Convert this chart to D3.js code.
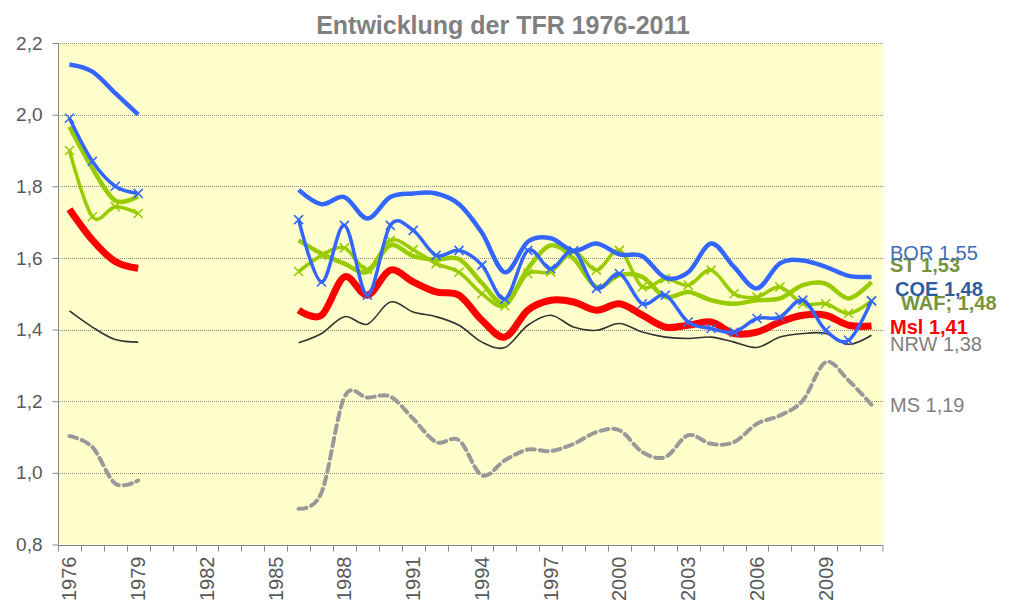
<!DOCTYPE html>
<html>
<head>
<meta charset="utf-8">
<script src="https://cdn.jsdelivr.net/npm/d3@7"></script>
<style>
  body { margin: 0; background: #fff; }
  text { font-family: "Liberation Sans", Arial, sans-serif; }
</style>
</head>
<body>
<script>
// TFR 1976-2011, no values for 1980-1985
var years = [1976, 1977, 1978, 1979, 1980, 1981, 1982, 1983, 1984, 1985,
    1986, 1987, 1988, 1989, 1990, 1991, 1992, 1993, 1994, 1995, 1996, 1997,
    1998, 1999, 2000, 2001, 2002, 2003, 2004, 2005, 2006, 2007, 2008, 2009, 2010, 2011];
var xLabels = [1976, 1979, 1982, 1985, 1988, 1991, 1994, 1997, 2000, 2003, 2006, 2009];
var yTicks = [0.8, 1.0, 1.2, 1.4, 1.6, 1.8, 2.0, 2.2];

var BOR = [2.14, 2.12, 2.06, 2.00, null, null, null, null, null, null,
    1.79, 1.75, 1.77, 1.71, 1.77, 1.78, 1.78, 1.75, 1.67, 1.56, 1.645, 1.655,
    1.62, 1.64, 1.61, 1.605, 1.545, 1.56, 1.64, 1.575, 1.515, 1.585, 1.593, 1.575, 1.55, 1.547];
var COE = [1.99, 1.87, 1.80, 1.78, null, null, null, null, null, null,
    1.707, 1.533, 1.691, 1.496, 1.691, 1.677, 1.607, 1.621, 1.58, 1.485, 1.621, 1.57,
    1.62, 1.515, 1.556, 1.472, 1.496, 1.421, 1.403, 1.393, 1.431, 1.435, 1.482, 1.398, 1.37, 1.48];
var ST = [1.966, 1.85, 1.76, 1.772, null, null, null, null, null, null,
    1.649, 1.612, 1.584, 1.561, 1.635, 1.605, 1.595, 1.597, 1.53, 1.472, 1.57, 1.635,
    1.598, 1.519, 1.552, 1.547, 1.491, 1.505, 1.482, 1.472, 1.482, 1.487, 1.524, 1.528, 1.487, 1.533];
var WAF = [1.90, 1.715, 1.743, 1.724, null, null, null, null, null, null,
    1.562, 1.607, 1.628, 1.568, 1.649, 1.623, 1.584, 1.56, 1.50, 1.466, 1.556, 1.561,
    1.617, 1.566, 1.621, 1.519, 1.542, 1.524, 1.566, 1.500, 1.491, 1.519, 1.472, 1.472, 1.445, 1.48];
var Msl = [1.736, 1.65, 1.59, 1.571, null, null, null, null, null, null,
    1.454, 1.44, 1.547, 1.496, 1.566, 1.533, 1.505, 1.496, 1.426, 1.379, 1.454, 1.482,
    1.477, 1.454, 1.472, 1.44, 1.407, 1.412, 1.421, 1.389, 1.393, 1.421, 1.44, 1.44, 1.412, 1.41];
var NRW = [1.452, 1.407, 1.372, 1.365, null, null, null, null, null, null,
    1.363, 1.389, 1.436, 1.415, 1.477, 1.449, 1.436, 1.412, 1.365, 1.350, 1.412, 1.440,
    1.407, 1.398, 1.417, 1.393, 1.379, 1.375, 1.379, 1.365, 1.350, 1.379, 1.389, 1.389, 1.359, 1.384];
var MS = [1.103, 1.072, 0.970, 0.979, null, null, null, null, null, null,
    0.900, 0.945, 1.212, 1.21, 1.213, 1.151, 1.086, 1.091, 0.993, 1.035, 1.065, 1.061,
    1.081, 1.114, 1.119, 1.058, 1.044, 1.105, 1.081, 1.086, 1.137, 1.160, 1.202, 1.309, 1.258, 1.19];

var seriesNames = ['MS', 'NRW', 'Msl', 'WAF', 'ST', 'BOR', 'COE'];
var labelTexts = ['MS 1,19', 'NRW 1,38', 'Msl 1,41', 'WAF; 1,48', 'ST 1,53', 'BOR 1,55', 'COE 1,48'];

var width = 1009, height = 604;
var pLeft = 58, pRight = 883, pTop = 43, pBottom = 544.5;

// line looks, in the same order as seriesNames
var looks = [
    {values: MS, color: '#999999', w: 4, dash: '8,5', marker: false},
    {values: NRW, color: '#333333', w: 1.6, dash: null, marker: false},
    {values: Msl, color: '#ff0000', w: 7, dash: null, marker: false},
    {values: WAF, color: '#99cc00', w: 3.5, dash: null, marker: true},
    {values: ST, color: '#99cc00', w: 4.5, dash: null, marker: false},
    {values: BOR, color: '#3366ff', w: 4.5, dash: null, marker: false},
    {values: COE, color: '#3366ff', w: 3.5, dash: null, marker: true}
];
// right hand labels
var labelLooks = [
    {x: 890, y: 411.5, color: '#808080', bold: false},
    {x: 890, y: 350.5, color: '#808080', bold: false},
    {x: 890, y: 333.5, color: '#ff0000', bold: true},
    {x: 901, y: 310, color: '#77933c', bold: true},
    {x: 890, y: 272, color: '#77933c', bold: true},
    {x: 890, y: 259.5, color: '#3f6db5', bold: false},
    {x: 895, y: 296, color: '#2e5c9c', bold: true}
];

var svg = d3.select('body').append('svg')
    .attr('width', width)
    .attr('height', height);

var x = d3.scaleBand().domain(years).range([pLeft, pRight]).padding(0);
var y = d3.scaleLinear().domain([0.8, 2.2]).range([pBottom, pTop]);
var cx = function(yr){ return x(yr) + x.bandwidth() / 2; };

svg.append('rect')
    .attr('x', pLeft).attr('y', pTop)
    .attr('width', pRight - pLeft).attr('height', pBottom - pTop)
    .attr('fill', '#ffffcc');

// dotted grid
svg.append('g').selectAll('line')
    .data(yTicks.filter(function(t){ return t > 0.8; }))
    .enter().append('line')
    .attr('x1', pLeft).attr('x2', pRight)
    .attr('y1', function(d){ return Math.round(y(d)) + 0.5; })
    .attr('y2', function(d){ return Math.round(y(d)) + 0.5; })
    .attr('stroke', '#8a8a8a')
    .attr('stroke-dasharray', '1,1');

// y axis
var yAxis = d3.axisLeft(y)
    .tickValues(yTicks)
    .tickSize(6)
    .tickPadding(10)
    .tickFormat(function(d){ return d3.format('.1f')(d).replace('.', ','); });
var gy = svg.append('g').attr('transform', 'translate(' + (pLeft + 0.5) + ',0)').call(yAxis);
gy.select('.domain').attr('stroke', '#868686').attr('d', 'M0,' + pTop + 'V' + pBottom);
gy.selectAll('.tick line').attr('stroke', '#868686');
gy.selectAll('.tick text').attr('fill', '#595959').style('font-size', '19px');

// x axis: labels every third year, tick marks between all years
var xAxis = d3.axisBottom(x).tickValues(xLabels).tickSize(0).tickPadding(0);
var gx = svg.append('g').attr('transform', 'translate(0,' + (Math.round(pBottom) + 0.5) + ')').call(xAxis);
gx.select('.domain').remove();
gx.selectAll('.tick text')
    .attr('fill', '#595959')
    .style('font-size', '20px')
    .attr('text-anchor', 'end')
    .attr('transform', 'translate(7,11) rotate(-90)')
    .attr('x', 0).attr('y', 0).attr('dy', 0);
gx.append('line')
    .attr('x1', pLeft).attr('x2', pRight)
    .attr('stroke', '#868686');
gx.selectAll('.xt')
    .data(years.concat(['end']))
    .enter().append('line')
    .attr('class', 'xt')
    .attr('x1', function(d){ return d === 'end' ? pRight : Math.round(x(d)) + 0.5; })
    .attr('x2', function(d){ return d === 'end' ? pRight : Math.round(x(d)) + 0.5; })
    .attr('y1', 0).attr('y2', 6)
    .attr('stroke', '#868686');

// series
var line = d3.line()
    .defined(function(d){ return d.v != null; })
    .x(function(d){ return cx(d.yr); })
    .y(function(d){ return y(d.v); })
    .curve(d3.curveCardinal.tension(0));

var marker = d3.symbol().type(d3.symbolX).size(55);

looks.forEach(function(s){
    var pts = years.map(function(yr, i){ return {yr: yr, v: s.values[i]}; });
    var p = svg.append('path')
        .datum(pts)
        .attr('d', line)
        .attr('fill', 'none')
        .attr('stroke', s.color)
        .attr('stroke-width', s.w)
        .attr('stroke-linejoin', 'round')
        .attr('stroke-linecap', s.dash ? 'round' : 'butt');
    if (s.dash) p.attr('stroke-dasharray', s.dash);
    if (s.marker) {
        svg.append('g').selectAll('path')
            .data(pts.filter(function(d){ return d.v != null; }))
            .enter().append('path')
            .attr('d', marker)
            .attr('transform', function(d){ return 'translate(' + cx(d.yr) + ',' + y(d.v) + ')'; })
            .attr('fill', 'none')
            .attr('stroke', s.color)
            .attr('stroke-width', 1.6);
    }
});

// labels at the right
svg.append('g').selectAll('text')
    .data(labelTexts)
    .enter().append('text')
    .attr('x', function(d, i){ return labelLooks[i].x; })
    .attr('y', function(d, i){ return labelLooks[i].y; })
    .attr('fill', function(d, i){ return labelLooks[i].color; })
    .style('font-weight', function(d, i){ return labelLooks[i].bold ? 'bold' : 'normal'; })
    .style('font-size', '20px')
    .text(function(d){ return d; });

svg.append('text')
    .attr('x', 503)
    .attr('y', 34)
    .attr('text-anchor', 'middle')
    .attr('fill', '#808080')
    .style('font-size', '25px')
    .style('font-weight', 'bold')
    .text('Entwicklung der TFR 1976-2011');
</script>
</body>
</html>
